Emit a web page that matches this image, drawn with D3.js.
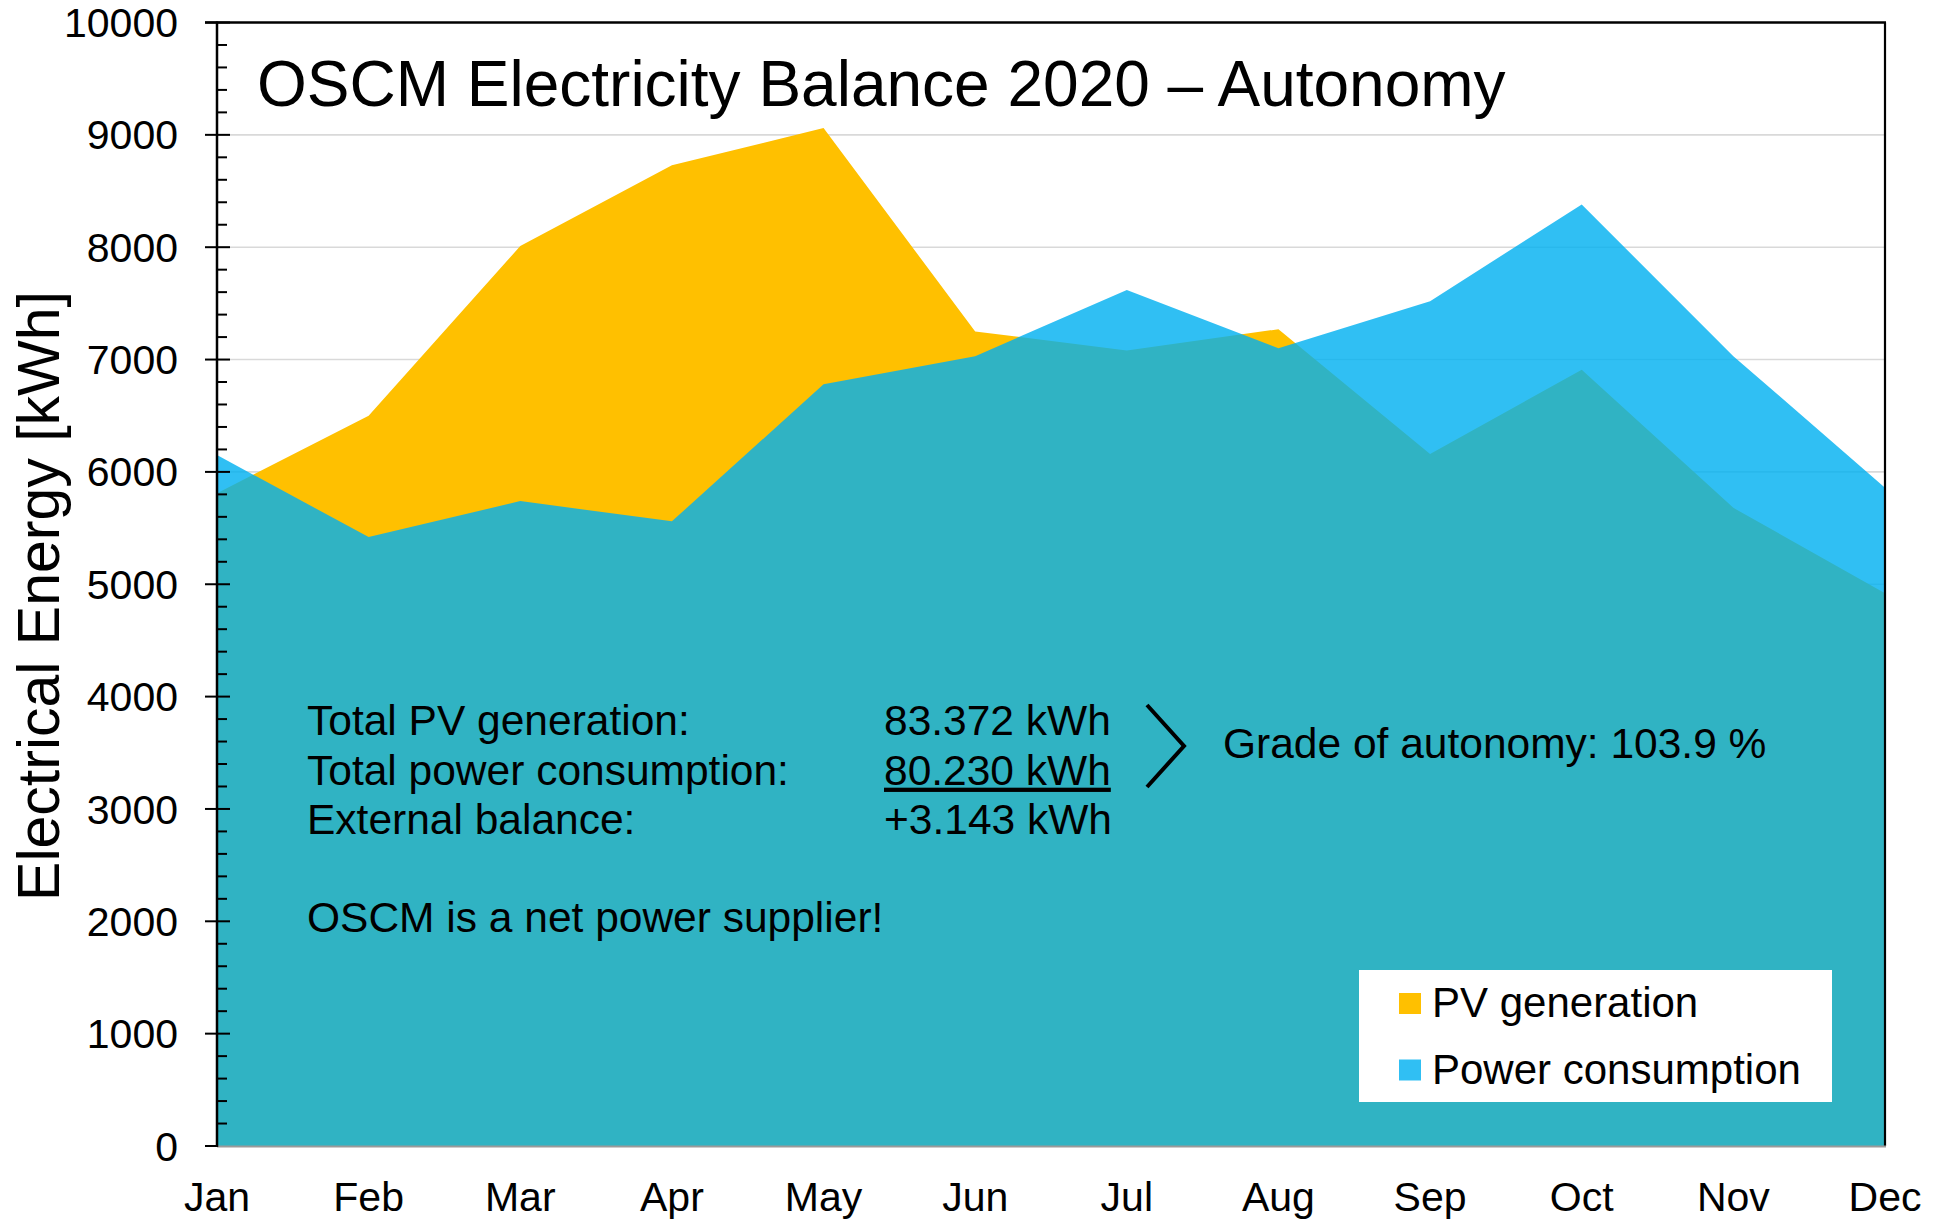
<!DOCTYPE html>
<html>
<head>
<meta charset="utf-8">
<script src="https://cdn.jsdelivr.net/npm/d3@7"></script>
<style>
  body { margin: 0; background: #fff; }
  text { font-family: "Liberation Sans", Arial, sans-serif; fill: #000; }
</style>
</head>
<body>
<div class="chart"></div>
<script>
let months = ["Jan", "Feb", "Mar", "Apr", "May", "Jun", "Jul", "Aug", "Sep", "Oct", "Nov", "Dec"];
let pvGeneration = [5810, 6500, 8010, 8730, 9060, 7250, 7080, 7270, 6160, 6910, 5680, 4920];
let powerConsumption = [6150, 5420, 5740, 5560, 6780, 7030, 7620, 7100, 7520, 8380, 7030, 5860];
let yTickValues = [0, 1000, 2000, 3000, 4000, 5000, 6000, 7000, 8000, 9000, 10000];
let seriesNames = ["PV generation", "Power consumption"];
let summaryLabels = ["Total PV generation:", "Total power consumption:", "External balance:"];
let summaryValues = ["83.372 kWh", "80.230 kWh", "+3.143 kWh"];
let autonomyText = "Grade of autonomy: 103.9 %";
let supplierText = "OSCM is a net power supplier!";
let title = "OSCM Electricity Balance 2020 \u2013 Autonomy";

let width = 1949, height = 1222;
let plot = {left: 217, right: 1885, top: 22.5, bottom: 1146};
let colors = ["#FFC000", "#00B0F0"];

const svg = d3.select(".chart")
  .append("svg")
  .attr("width", width)
  .attr("height", height);

let x = d3.scalePoint()
  .domain(months)
  .range([plot.left, plot.right]);

let y = d3.scaleLinear()
  .domain([0, 10000])
  .range([plot.bottom, plot.top]);

// gridlines
svg.append("g")
  .selectAll("line")
  .data(yTickValues.filter(d => d > 0 && d < 10000))
  .enter()
  .append("line")
  .attr("x1", plot.left)
  .attr("x2", plot.right)
  .attr("y1", d => y(d))
  .attr("y2", d => y(d))
  .attr("stroke", "#D9D9D9")
  .attr("stroke-width", 1.6);

let area = d3.area()
  .x((d, i) => x(months[i]))
  .y0(y(0))
  .y1(d => y(d));

svg.append("path")
  .datum(pvGeneration)
  .attr("d", area)
  .attr("fill", colors[0]);

svg.append("path")
  .datum(powerConsumption)
  .attr("d", area)
  .attr("fill", colors[1])
  .attr("fill-opacity", 0.81);

// frame: top and right black, bottom grey
svg.append("line")
  .attr("x1", plot.left - 12).attr("x2", plot.right + 1)
  .attr("y1", plot.top).attr("y2", plot.top)
  .attr("stroke", "#000").attr("stroke-width", 2.5);
svg.append("line")
  .attr("x1", plot.right).attr("x2", plot.right)
  .attr("y1", plot.top).attr("y2", plot.bottom)
  .attr("stroke", "#000").attr("stroke-width", 2.2);
svg.append("line")
  .attr("x1", plot.left).attr("x2", plot.right + 1)
  .attr("y1", plot.bottom + 0.5).attr("y2", plot.bottom + 0.5)
  .attr("stroke", "#9a9a9a").attr("stroke-width", 2);

// y axis with crossing major ticks and inner minor ticks
let yAxis = svg.append("g").attr("class", "y-axis");
yAxis.selectAll(".minor")
  .data(d3.range(0, 10001, 200).filter(d => d % 1000 !== 0))
  .enter()
  .append("line")
  .attr("x1", plot.left)
  .attr("x2", plot.left + 10)
  .attr("y1", d => y(d))
  .attr("y2", d => y(d))
  .attr("stroke", "#000")
  .attr("stroke-width", 2);
yAxis.selectAll(".major")
  .data(yTickValues)
  .enter()
  .append("line")
  .attr("x1", plot.left - 12)
  .attr("x2", d => d === 0 ? plot.left : plot.left + 13)
  .attr("y1", d => y(d))
  .attr("y2", d => y(d))
  .attr("stroke", "#000")
  .attr("stroke-width", 2);
yAxis.append("line")
  .attr("x1", plot.left).attr("x2", plot.left)
  .attr("y1", plot.top - 1).attr("y2", plot.bottom + 1)
  .attr("stroke", "#000").attr("stroke-width", 2.5);
yAxis.selectAll("text")
  .data(yTickValues)
  .enter()
  .append("text")
  .attr("x", 178)
  .attr("y", d => y(d))
  .attr("dy", "0.355em")
  .attr("text-anchor", "end")
  .style("font-size", "41px")
  .text(d => d);

// x labels
svg.append("g")
  .selectAll("text")
  .data(months)
  .enter()
  .append("text")
  .attr("x", d => x(d))
  .attr("y", 1211)
  .attr("text-anchor", "middle")
  .style("font-size", "41px")
  .text(d => d);

svg.append("text")
  .attr("transform", "translate(59,596) rotate(-90)")
  .attr("text-anchor", "middle")
  .style("font-size", "59px")
  .text("Electrical Energy [kWh]");

svg.append("text")
  .attr("x", 257)
  .attr("y", 106)
  .style("font-size", "64px")
  .text(title);

// summary block
let summary = svg.append("g");
summary.selectAll(".lab")
  .data(summaryLabels)
  .enter()
  .append("text")
  .attr("x", 307)
  .attr("y", (d, i) => 735 + i * 49.7)
  .style("font-size", "42.5px")
  .text(d => d);
summary.selectAll(".val")
  .data(summaryValues)
  .enter()
  .append("text")
  .attr("x", 884)
  .attr("y", (d, i) => 735 + i * 49.7)
  .style("font-size", "42.5px")
  .style("text-decoration", (d, i) => i === 1 ? "underline" : null)
  .text(d => d);
summary.append("path")
  .attr("d", "M1147,705 L1184,746 L1147,787")
  .attr("fill", "none")
  .attr("stroke", "#000")
  .attr("stroke-width", 4);
summary.append("text")
  .attr("x", 1223)
  .attr("y", 758)
  .style("font-size", "42.5px")
  .text(autonomyText);
summary.append("text")
  .attr("x", 307)
  .attr("y", 932)
  .style("font-size", "42.5px")
  .text(supplierText);

// legend
let legend = svg.append("g");
legend.append("rect")
  .attr("x", 1359).attr("y", 970)
  .attr("width", 473).attr("height", 132)
  .attr("fill", "#fff");
legend.selectAll("rect.sw")
  .data(seriesNames)
  .enter()
  .append("rect")
  .attr("class", "sw")
  .attr("x", 1399)
  .attr("y", (d, i) => 993 + i * 66.5)
  .attr("width", 22)
  .attr("height", 21)
  .attr("fill", (d, i) => colors[i])
  .attr("fill-opacity", (d, i) => i === 1 ? 0.81 : 1);
legend.selectAll("text")
  .data(seriesNames)
  .enter()
  .append("text")
  .attr("x", 1432)
  .attr("y", (d, i) => 1017 + i * 66.5)
  .style("font-size", "42px")
  .text(d => d);
</script>
</body>
</html>
